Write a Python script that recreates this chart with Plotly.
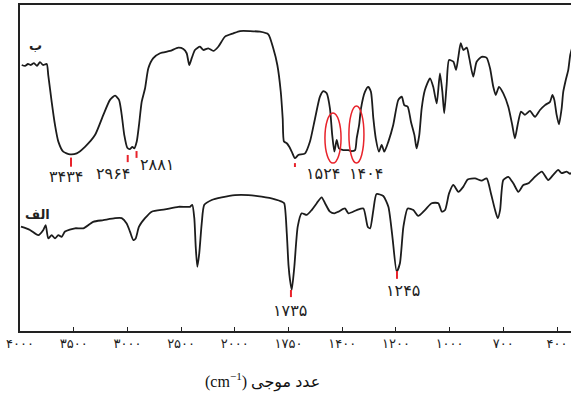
import numpy as np
import plotly.graph_objects as go

# ---- axis ticks (non-linear IR scale, evenly spaced labels) ----
tick_wn = [4000, 3500, 3000, 2500, 2000, 1750, 1400, 1200, 1000, 700, 400]
tick_text = ["۴۰۰۰", "۳۵۰۰", "۳۰۰۰", "۲۵۰۰", "۲۰۰۰", "۱۷۵۰", "۱۴۰۰", "۱۲۰۰", "۱۰۰۰", "۷۰۰", "۴۰۰"]

# ---- spectrum ب (top) ----
wn_b = [3984, 3953, 3926, 3898, 3870, 3842, 3814, 3786, 3751, 3737, 3705, 3674, 3643, 3597,
        3534, 3472, 3395, 3302, 3224, 3162, 3115, 3078, 3053, 3029, 3001, 2976, 2954, 2936,
        2913, 2892, 2867, 2836, 2805, 2759, 2696, 2603, 2526, 2479, 2448, 2424, 2401, 2371,
        2324, 2293, 2247, 2200, 2154, 2091, 2014, 1976, 1929, 1883, 1844, 1821, 1802, 1786,
        1777, 1771, 1758, 1745, 1729, 1708, 1686, 1642, 1610, 1577, 1545, 1523, 1501, 1480,
        1465, 1451, 1436, 1421, 1396, 1377, 1365, 1352, 1346, 1337, 1330, 1315, 1303, 1293,
        1284, 1275, 1263, 1253, 1243, 1228, 1210, 1191, 1178, 1169, 1156, 1144, 1131, 1123,
        1113, 1104, 1092, 1073, 1061, 1048, 1036, 1027, 1020, 1011, 1002, 979, 964, 951, 938,
        923, 904, 890, 868, 849, 821, 793, 774, 756, 742, 724, 700, 672, 650, 635, 620, 601,
        579, 551, 523, 495, 467, 439, 426, 415, 402, 389, 374, 365, 351, 337, 326, 316]
t_b = [81.6, 81.3, 81.9, 81.6, 82.2, 81.3, 82.5, 81.6, 81.9, 78.5, 70.3, 63.2, 58.1, 55.0,
       54.2, 54.5, 56.5, 60.1, 66.3, 70.9, 72.2, 70.9, 66.3, 60.1, 56.2, 55.8, 56.5, 56.0,
       58.1, 63.2, 70.3, 74.4, 80.6, 83.7, 85.2, 85.9, 86.9, 86.5, 85.2, 81.6, 83.7, 86.2,
       87.2, 86.2, 86.7, 85.9, 87.2, 90.3, 91.3, 92.0, 92.0, 91.8, 91.0, 86.7, 81.6, 73.4,
       65.2, 58.1, 57.6, 56.5, 55.0, 53.0, 54.0, 54.5, 58.1, 65.2, 71.9, 73.6, 72.9, 68.3,
       60.1, 55.0, 58.6, 56.0, 55.5, 55.5, 55.2, 55.5, 59.1, 63.2, 68.3, 73.4, 74.9, 73.4,
       65.2, 59.1, 55.0, 57.1, 55.0, 58.1, 63.2, 70.9, 71.9, 69.3, 68.8, 64.2, 60.1, 56.0,
       60.1, 68.3, 73.9, 77.5, 74.9, 69.8, 79.0, 73.4, 66.8, 75.5, 83.1, 82.6, 80.1, 84.1, 88.3,
       86.2, 86.9, 83.7, 78.0, 82.6, 84.1, 83.8, 80.6, 74.9, 72.4, 74.9, 72.9, 68.8, 63.2, 59.1, 63.2, 67.3,
       66.3, 67.5, 65.7, 67.8, 69.3, 70.3, 72.4, 70.9, 66.3, 63.4, 68.3, 73.4, 77.0, 80.1, 84.7, 86.8]

# ---- spectrum الف (bottom) ----
wn_a = [3991, 3907, 3830, 3783, 3761, 3737, 3705, 3674, 3643, 3612, 3581, 3488, 3411, 3318,
        3224, 3115, 3053, 3007, 2976, 2945, 2923, 2892, 2836, 2774, 2650, 2526, 2417, 2396,
        2377, 2364, 2349, 2331, 2308, 2284, 2215, 2122, 1999, 1937, 1875, 1813, 1782, 1770,
        1758, 1750, 1740, 1729, 1712, 1690, 1664, 1631, 1599, 1566, 1534, 1512, 1480, 1451,
        1425, 1390, 1377, 1346, 1321, 1305, 1296, 1284, 1272, 1247, 1228, 1213, 1197, 1185,
        1172, 1156, 1135, 1117, 1092, 1067, 1042, 1029, 1017, 1002, 979, 951, 923, 899, 858,
        821, 793, 769, 746, 731, 718, 700, 672, 644, 616, 588, 560, 523, 485, 449, 421, 393,
        374, 346, 327, 316]
t_a = [32.0, 31.0, 29.4, 31.0, 32.5, 28.4, 29.4, 28.4, 29.4, 28.9, 30.5, 31.5, 31.5, 33.5,
       34.0, 34.6, 34.6, 33.0, 30.5, 27.9, 28.4, 32.0, 34.6, 36.6, 37.3, 38.1, 38.1, 38.7,
       34.6, 25.9, 19.7, 23.8, 33.0, 38.7, 40.2, 41.0, 41.7, 41.7, 41.2, 40.4, 39.7, 39.2,
       30.0, 20.2, 15.6, 12.6, 19.7, 32.0, 36.1, 35.6, 37.1, 39.2, 41.0, 39.2, 36.6, 36.1,
       36.6, 37.6, 36.1, 37.1, 37.6, 32.0, 31.5, 37.1, 42.0, 41.4, 38.1, 28.9, 18.2, 20.8,
       32.0, 37.6, 37.1, 35.3, 37.1, 39.2, 39.2, 36.6, 37.1, 42.2, 44.8, 42.7, 44.3, 46.5, 46.8,
       46.1, 46.8, 42.2, 37.1, 34.6, 37.1, 46.3, 47.3, 45.3, 42.7, 44.8, 45.3, 47.3, 48.9, 46.3, 47.9, 49.4,
       48.4, 48.9, 48.2, 48.8]

# ---- marked peaks (red ticks) ----
peak_b_wn = [3525, 2997, 2915, 1708]
peak_b_top = [53.2, 54.0, 55.2, 51.5]
peak_b_bot = [50.4, 51.8, 53.1, 50.3]
peak_b_text = ["۳۴۳۴", "۲۹۶۴", "۲۸۸۱", ""]

peak_a_wn = [1734, 1196]
peak_a_top = [12.6, 18.4]
peak_a_bot = [10.4, 16.0]
peak_a_text = ["۱۷۳۵", "۱۲۴۵"]

# circled bands on spectrum ب
circle_wn = [1460, 1347]
circle_text = ["۱۵۲۴", "۱۴۰۴"]
circle_t0 = [51.5, 51.5]
circle_t1 = [66.9, 69.0]

tick_idx = np.arange(len(tick_wn), dtype=float)
tick_arr = np.array(tick_wn, dtype=float)


def to_pos(wn):
    wn = np.asarray(wn, dtype=float)
    p = np.interp(-wn, -tick_arr, tick_idx)
    return np.where(wn < 400, 10 + (400 - wn) / 300.0, p)


fig = go.Figure()
line_style = dict(color="#1c1c1c", width=1.8, shape="spline", smoothing=0.6)
fig.add_trace(go.Scatter(x=to_pos(wn_b), y=t_b, mode="lines", line=line_style,
                         name="ب", showlegend=False, hoverinfo="skip"))
fig.add_trace(go.Scatter(x=to_pos(wn_a), y=t_a, mode="lines", line=line_style,
                         name="الف", showlegend=False, hoverinfo="skip"))

RED = "#e8232b"
digit_font = dict(family="DejaVu Sans", size=16, color="#222")

# red peak ticks
for wns, tops, bots in [(peak_b_wn, peak_b_top, peak_b_bot), (peak_a_wn, peak_a_top, peak_a_bot)]:
    xs, ys = [], []
    for w, t0, t1 in zip(wns, tops, bots):
        p = float(to_pos(w))
        xs += [p, p, None]
        ys += [t0, t1, None]
    fig.add_trace(go.Scatter(x=xs, y=ys, mode="lines", line=dict(color=RED, width=2),
                             showlegend=False, hoverinfo="skip"))

label_shift = {
    "۳۴۳۴": (-5, -10), "۲۹۶۴": (-15, -11), "۲۸۸۱": (20, -7),
    "۱۷۳۵": (-1, -13), "۱۲۴۵": (6, -12),
}
for wns, bots, texts in [(peak_b_wn, peak_b_bot, peak_b_text), (peak_a_wn, peak_a_bot, peak_a_text)]:
    for w, b, txt in zip(wns, bots, texts):
        if not txt:
            continue
        dx, dy = label_shift[txt]
        fig.add_annotation(x=float(to_pos(w)), y=b, text=txt, showarrow=False,
                           xshift=dx, yshift=dy, yanchor="middle", font=digit_font)

# ellipses and their labels
half_w = [0.15, 0.14]
circle_dx = [-10, 10]
for w, t0, t1, hw, txt, dx in zip(circle_wn, circle_t0, circle_t1, half_w, circle_text, circle_dx):
    c = float(to_pos(w))
    fig.add_shape(type="circle", xref="x", yref="y", x0=c - hw, x1=c + hw, y0=t0, y1=t1,
                  line=dict(color=RED, width=1.5))
    fig.add_annotation(x=c, y=t0, text=txt, showarrow=False, xshift=dx, yshift=-10,
                       yanchor="middle", font=digit_font)

# spectrum names
fig.add_annotation(x=0.28, y=87.7, text="<b>ب</b>", showarrow=False,
                   font=dict(family="DejaVu Sans", size=13, color="#222"))
fig.add_annotation(x=0.32, y=35.6, text="<b>الف</b>", showarrow=False,
                   font=dict(family="DejaVu Sans", size=13, color="#222"))

# axis title
fig.add_annotation(xref="paper", yref="paper", x=0.44, y=-0.153, text="(cm<sup>−1</sup>) عدد موجی",
                   showarrow=False, yanchor="middle",
                   font=dict(family="Liberation Serif, DejaVu Sans", size=16, color="#111"))

fig.update_layout(
    width=571, height=396,
    margin=dict(l=20, r=0, t=5, b=65),
    paper_bgcolor="white", plot_bgcolor="white",
    xaxis=dict(range=[0, 551 / 53.7], tickvals=list(tick_idx), ticktext=tick_text,
               showline=True, linecolor="#222", linewidth=1.5, mirror=True,
               ticks="inside", ticklen=4, tickcolor="#222", tickwidth=1,
               showgrid=False, zeroline=False,
               tickfont=dict(family="DejaVu Sans", size=13, color="#222")),
    yaxis=dict(range=[0, 100], showline=True, linecolor="#222", linewidth=1.5,
               showticklabels=False, ticks="", showgrid=False, zeroline=False),
)

fig.write_html("out.html", config={"displayModeBar": False},
               post_script="document.body.style.margin='0';")
